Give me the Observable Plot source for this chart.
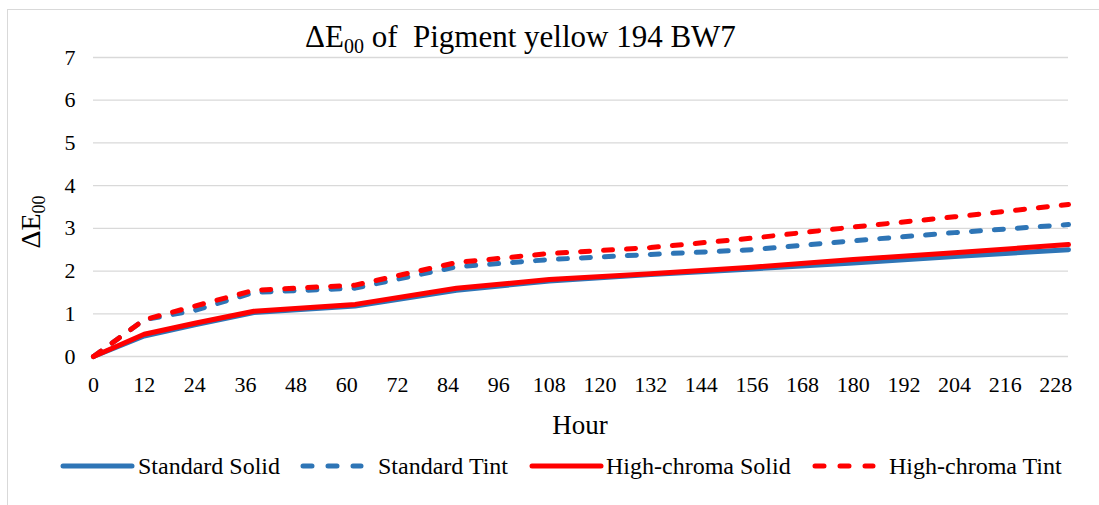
<!DOCTYPE html>
<html>
<head>
<meta charset="utf-8">
<script src="https://cdn.jsdelivr.net/npm/d3@7"></script>
<script src="https://cdn.jsdelivr.net/npm/@observablehq/plot@0.6"></script>
<style>
  html, body { margin: 0; padding: 0; background: #fff; }
  #chart { position: relative; width: 1099px; height: 505px; overflow: hidden; }
  #frame { position: absolute; left: 7px; top: 9px; width: 1100px; height: 520px; border: 1px solid #d9d9d9; box-sizing: border-box; pointer-events: none; }
</style>
</head>
<body>
<div id="chart"><div id="frame"></div></div>
<script>
const hours = [0, 12, 24, 38, 62, 86, 108, 132, 156, 180, 204, 231];
const standardSolid     = [0, 0.48, 0.74, 1.03, 1.18, 1.55, 1.77, 1.92, 2.05, 2.19, 2.34, 2.50];
const standardTint      = [0, 0.86, 1.08, 1.50, 1.60, 2.10, 2.27, 2.39, 2.50, 2.71, 2.90, 3.09];
const highChromaSolid   = [0, 0.52, 0.78, 1.06, 1.22, 1.60, 1.80, 1.94, 2.09, 2.27, 2.43, 2.62];
const highChromaTint    = [0, 0.86, 1.18, 1.55, 1.67, 2.20, 2.41, 2.55, 2.77, 3.03, 3.27, 3.56];
const xTicks = d3.range(0, 229, 12);
const yTicks = [0, 1, 2, 3, 4, 5, 6, 7];

const seriesNames = ["Standard Solid", "Standard Tint", "High-chroma Solid", "High-chroma Tint"];
const seriesValues = [standardSolid, standardTint, highChromaSolid, highChromaTint];
const seriesColor = ["#2E75B6", "#2E75B6", "#FF0000", "#FF0000"];
const seriesDash = [null, "9,14", null, "9,14"];

const rows = seriesNames.map((name, i) => hours.map((h, j) => ({series: name, hour: h, value: seriesValues[i][j]})));

const W = 1099, H = 505;
const plot = Plot.plot({
  width: W,
  height: H,
  marginLeft: 93,
  marginRight: 31,
  marginTop: 57,
  marginBottom: 149,
  style: {fontFamily: "'Liberation Serif', 'Times New Roman', serif", fontSize: "22px", color: "#000", background: "transparent"},
  x: {domain: [0, 231], label: null},
  y: {domain: [0, 7], label: null},
  marks: [
    Plot.ruleY(yTicks, {stroke: "#d9d9d9", strokeWidth: 1.3}),
    Plot.axisX({ticks: xTicks, tickSize: 0, tickPadding: 20, fontSize: 22, label: null, tickFormat: d => String(d)}),
    Plot.axisY({ticks: yTicks, tickSize: 0, tickPadding: 18, fontSize: 22, label: null, tickFormat: d => String(d)}),
    ...rows.map((r, i) => Plot.line(r, {
      x: "hour", y: "value",
      stroke: seriesColor[i], strokeWidth: 5,
      strokeDasharray: seriesDash[i] || undefined,
      strokeLinecap: "round", strokeLinejoin: "round"
    }))
  ]
});
document.getElementById("chart").appendChild(plot);

const svg = d3.select(plot);
const font = "'Liberation Serif', 'Times New Roman', serif";

// Title
const t = svg.append("text").attr("x", 305).attr("y", 47).attr("text-anchor", "start")
  .attr("font-family", font).attr("font-size", 31).attr("fill", "#000");
t.append("tspan").text("ΔE");
t.append("tspan").attr("font-size", 20).attr("dy", 6).text("00");
t.append("tspan").attr("dy", -6).text(" of\u00a0 Pigment yellow 194 BW7");

// Y label
const yl = svg.append("text").attr("transform", "translate(40,222) rotate(-90)").attr("text-anchor", "middle")
  .attr("font-family", font).attr("font-size", 28).attr("fill", "#000");
yl.append("tspan").text("ΔE");
yl.append("tspan").attr("font-size", 18).attr("dy", 5).text("00");

// X label
svg.append("text").attr("x", 580).attr("y", 434).attr("text-anchor", "middle")
  .attr("font-family", font).attr("font-size", 27).attr("fill", "#000").text("Hour");

// Legend
const legendItems = [
  {x0: 63, x1: 132, tx: 138},
  {x0: 303, x1: 361, tx: 378},
  {x0: 532, x1: 601, tx: 606},
  {x0: 815, x1: 873, tx: 889}
];
const lg = svg.append("g");
legendItems.forEach((it, i) => {
  lg.append("line").attr("x1", it.x0).attr("x2", it.x1).attr("y1", 466).attr("y2", 466)
    .attr("stroke", seriesColor[i]).attr("stroke-width", 5).attr("stroke-linecap", "round")
    .attr("stroke-dasharray", seriesDash[i] ? "9,16" : null);
  lg.append("text").attr("x", it.tx).attr("y", 474).attr("text-anchor", "start")
    .attr("font-family", font).attr("font-size", 24).attr("fill", "#000").text(seriesNames[i]);
});
</script>
</body>
</html>
